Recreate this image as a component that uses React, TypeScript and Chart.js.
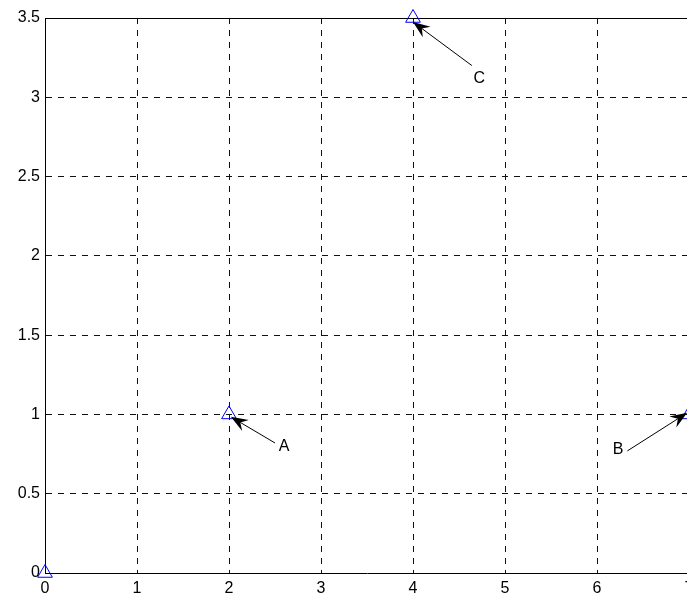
import { useEffect, useRef } from 'react';
import { Chart, registerables } from 'chart.js';

Chart.register(...registerables);

// Data points (triangle markers)
const pointsX = [0, 2, 4, 7];
const pointsY = [0, 1, 3.5, 1];

// Annotations: label text, label position, arrow tail and head (data units)
const annotationLabels = ['A', 'B', 'C'];
const labelX = [2.6, 6.23, 4.72];
const labelY = [0.8, 0.776, 3.12];
const arrowTailX = [2.5, 6.33, 4.64];
const arrowTailY = [0.82, 0.77, 3.2];
const arrowHeadX = [2.02, 6.98, 4.0];
const arrowHeadY = [0.985, 1.01, 3.475];

// Axes
const xMin = 0;
const xMax = 7;
const xStep = 1;
const yMin = 0;
const yMax = 3.5;
const yStep = 0.5;

const FONT = '"Liberation Sans", Arial, Helvetica, sans-serif';

function drawArrow(ctx: CanvasRenderingContext2D, x1: number, y1: number, x2: number, y2: number) {
  const ang = Math.atan2(y2 - y1, x2 - x1);
  const c = Math.cos(ang);
  const s = Math.sin(ang);
  const L = 17;
  const W = 6.5;
  const N = 11;
  ctx.beginPath();
  ctx.moveTo(x1, y1);
  ctx.lineTo(x2 - N * c, y2 - N * s);
  ctx.stroke();
  const bx = x2 - L * c;
  const by = y2 - L * s;
  ctx.beginPath();
  ctx.moveTo(x2, y2);
  ctx.lineTo(bx - W * s, by + W * c);
  ctx.lineTo(x2 - N * c, y2 - N * s);
  ctx.lineTo(bx + W * s, by - W * c);
  ctx.closePath();
  ctx.fill();
}

export default function App() {
  const ref = useRef<HTMLCanvasElement>(null);

  useEffect(() => {
    if (!ref.current) return;

    const boxPlugin = {
      id: 'boxPlugin',
      beforeDatasetsDraw(chart: any) {
        const { ctx, chartArea: a } = chart;
        ctx.save();
        ctx.strokeStyle = '#000';
        ctx.lineWidth = 1;
        ctx.setLineDash([]);
        const y = Math.round(a.top) + 0.5;
        const xr = Math.round(a.right) - 0.5;
        ctx.beginPath();
        ctx.moveTo(a.left, y);
        ctx.lineTo(a.right, y);
        ctx.moveTo(xr, a.top);
        ctx.lineTo(xr, a.bottom);
        ctx.stroke();
        ctx.restore();
      },
    };

    const annotationPlugin = {
      id: 'annotationPlugin',
      afterDatasetsDraw(chart: any) {
        const { ctx } = chart;
        const xs = chart.scales.x;
        const ys = chart.scales.y;
        ctx.save();
        ctx.strokeStyle = '#000';
        ctx.fillStyle = '#000';
        ctx.lineWidth = 1;
        ctx.setLineDash([]);
        for (let i = 0; i < annotationLabels.length; i++) {
          drawArrow(
            ctx,
            xs.getPixelForValue(arrowTailX[i]),
            ys.getPixelForValue(arrowTailY[i]),
            xs.getPixelForValue(arrowHeadX[i]),
            ys.getPixelForValue(arrowHeadY[i])
          );
          ctx.font = `16px ${FONT}`;
          ctx.textAlign = 'center';
          ctx.textBaseline = 'middle';
          ctx.fillText(annotationLabels[i], xs.getPixelForValue(labelX[i]), ys.getPixelForValue(labelY[i]));
        }
        ctx.restore();
      },
    };

    const chart = new Chart(ref.current, {
      type: 'scatter',
      data: {
        datasets: [
          {
            data: pointsX.map((x, i) => ({ x, y: pointsY[i] })),
            pointStyle: 'triangle',
            radius: 8.5,
            hoverRadius: 8.5,
            borderColor: '#0000ff',
            backgroundColor: 'rgba(0,0,0,0)',
            borderWidth: 1,
            clip: false as any,
          },
        ],
      },
      options: {
        responsive: false,
        animation: false,
        devicePixelRatio: 1,
        layout: { padding: { top: 18, right: 51, left: 0, bottom: 0 } },
        plugins: { legend: { display: false }, tooltip: { enabled: false } },
        scales: {
          x: {
            type: 'linear',
            min: xMin,
            max: xMax,
            afterFit: (s: any) => {
              s.height = 28;
            },
            ticks: {
              stepSize: xStep,
              color: '#000',
              padding: 6,
              maxRotation: 0,
              font: { family: FONT, size: 16 },
              callback: (v: any) => String(v),
            },
            grid: {
              color: '#111',
              lineWidth: 1,
              drawTicks: false,
            },
            border: { display: true, color: '#000', width: 1, dash: [6, 6] },
          },
          y: {
            type: 'linear',
            min: yMin,
            max: yMax,
            afterFit: (s: any) => {
              s.width = 45;
            },
            ticks: {
              stepSize: yStep,
              color: '#000',
              padding: 5,
              font: { family: FONT, size: 16 },
              callback: (v: any) => String(v),
            },
            grid: {
              color: '#111',
              lineWidth: 1,
              drawTicks: false,
            },
            border: { display: true, color: '#000', width: 1, dash: [6, 6] },
          },
        },
      },
      plugins: [boxPlugin, annotationPlugin],
    });

    return () => chart.destroy();
  }, []);

  return (
    <div
      style={{
        position: 'fixed',
        left: 0,
        top: 0,
        width: 687,
        height: 601,
        overflow: 'hidden',
        background: '#fff',
      }}
    >
      <canvas ref={ref} width={740} height={601} style={{ width: 740, height: 601, display: 'block' }} />
    </div>
  );
}
